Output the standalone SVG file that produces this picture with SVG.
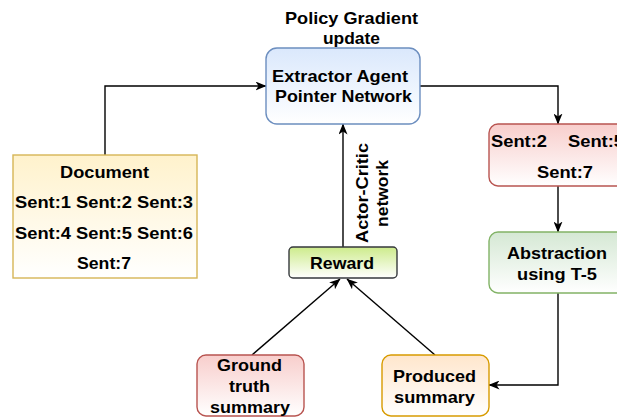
<svg xmlns="http://www.w3.org/2000/svg" width="617" height="418" viewBox="0 0 617 418">
<defs>
<linearGradient id="gBlue" x1="0" y1="0" x2="0" y2="1"><stop offset="0" stop-color="#dae8fc"/><stop offset="1" stop-color="#ffffff"/></linearGradient>
<linearGradient id="gYellow" x1="0" y1="0" x2="0" y2="1"><stop offset="0" stop-color="#fff2cc"/><stop offset="1" stop-color="#ffffff"/></linearGradient>
<linearGradient id="gRed" x1="0" y1="0" x2="0" y2="1"><stop offset="0" stop-color="#f8cecc"/><stop offset="1" stop-color="#ffffff"/></linearGradient>
<linearGradient id="gGreen" x1="0" y1="0" x2="0" y2="1"><stop offset="0" stop-color="#d5e8d4"/><stop offset="1" stop-color="#ffffff"/></linearGradient>
<linearGradient id="gOrange" x1="0" y1="0" x2="0" y2="1"><stop offset="0" stop-color="#ffe6cc"/><stop offset="1" stop-color="#ffffff"/></linearGradient>
<linearGradient id="gLime" x1="0" y1="0" x2="0" y2="1"><stop offset="0" stop-color="#cdeb8b"/><stop offset="1" stop-color="#ffffff"/></linearGradient>
<marker id="arr" viewBox="0 0 11 9" refX="10.5" refY="4.5" markerWidth="11" markerHeight="9" markerUnits="userSpaceOnUse" orient="auto">
<path d="M0,0 L11,4.5 L0,9 L3,4.5 Z" fill="#000"/>
</marker>
</defs>
<style>
text{font-family:"Liberation Sans",Arial,sans-serif;font-weight:bold;font-size:16.5px;fill:#000}
.c{text-anchor:middle}
.edge{fill:none;stroke:#000;stroke-width:1.4;marker-end:url(#arr)}
.box{stroke-width:1.4}
</style>

<text class="c" x="351.5" y="24" textLength="133" lengthAdjust="spacingAndGlyphs">Policy Gradient</text>
<text class="c" x="351.5" y="44" textLength="57" lengthAdjust="spacingAndGlyphs">update</text>

<g id="connectors">
<path class="edge" d="M105,155 V86 H266"/>
<path class="edge" d="M420,86 H558 V124"/>
<path class="edge" d="M558,186 V232"/>
<path class="edge" d="M558,293 V385 H489"/>
<path class="edge" d="M343,247 V124"/>
<path class="edge" d="M252,355 L340,279"/>
<path class="edge" d="M435,355 L347,279"/>
</g>

<g id="extractor">
<rect class="box" x="266" y="48" width="154" height="76" rx="11" fill="url(#gBlue)" stroke="#6c8ebf"/>
<text class="c" x="340" y="82" textLength="136" lengthAdjust="spacingAndGlyphs">Extractor Agent</text>
<text class="c" x="343.5" y="102" textLength="137" lengthAdjust="spacingAndGlyphs">Pointer Network</text>
</g>

<g id="document">
<rect class="box" x="13" y="155" width="184" height="123" fill="url(#gYellow)" stroke="#d6b656"/>
<text class="c" x="104.5" y="178" textLength="89" lengthAdjust="spacingAndGlyphs">Document</text>
<text class="c" x="104" y="208" textLength="178" lengthAdjust="spacingAndGlyphs">Sent:1 Sent:2 Sent:3</text>
<text class="c" x="104" y="239" textLength="178" lengthAdjust="spacingAndGlyphs">Sent:4 Sent:5 Sent:6</text>
<text class="c" x="104" y="269" textLength="54" lengthAdjust="spacingAndGlyphs">Sent:7</text>
</g>

<g id="selected">
<rect class="box" x="489" y="124" width="140" height="62" rx="9" fill="url(#gRed)" stroke="#b85450"/>
<text x="491" y="147" textLength="56" lengthAdjust="spacingAndGlyphs">Sent:2</text>
<text x="568" y="147" textLength="56" lengthAdjust="spacingAndGlyphs">Sent:5</text>
<text class="c" x="565" y="178" textLength="56" lengthAdjust="spacingAndGlyphs">Sent:7</text>
</g>

<g id="abstraction">
<rect class="box" x="489" y="232" width="138" height="61" rx="9" fill="url(#gGreen)" stroke="#82b366"/>
<text class="c" x="557" y="259" textLength="100" lengthAdjust="spacingAndGlyphs">Abstraction</text>
<text class="c" x="557" y="280" textLength="80" lengthAdjust="spacingAndGlyphs">using T-5</text>
</g>

<g id="reward">
<rect class="box" x="289" y="247" width="108" height="31" rx="4" fill="url(#gLime)" stroke="#36393d"/>
<text class="c" x="342" y="269" textLength="64" lengthAdjust="spacingAndGlyphs">Reward</text>
</g>

<g id="actor-critic-label">
<text class="c" transform="translate(368,193) rotate(-90)" textLength="100" lengthAdjust="spacingAndGlyphs">Actor-Critic</text>
<text class="c" transform="translate(388,193.5) rotate(-90)" textLength="67" lengthAdjust="spacingAndGlyphs">network</text>
</g>

<g id="ground-truth">
<rect class="box" x="197" y="355" width="107" height="61" rx="9" fill="url(#gRed)" stroke="#b85450"/>
<text class="c" x="249.5" y="371" textLength="65" lengthAdjust="spacingAndGlyphs">Ground</text>
<text class="c" x="249.5" y="392" textLength="41" lengthAdjust="spacingAndGlyphs">truth</text>
<text class="c" x="250" y="413" textLength="80" lengthAdjust="spacingAndGlyphs">summary</text>
</g>

<g id="produced">
<rect class="box" x="382" y="355" width="107" height="61" rx="9" fill="url(#gOrange)" stroke="#d79b00"/>
<text class="c" x="434.5" y="382" textLength="83" lengthAdjust="spacingAndGlyphs">Produced</text>
<text class="c" x="434.5" y="403" textLength="81" lengthAdjust="spacingAndGlyphs">summary</text>
</g>
</svg>
